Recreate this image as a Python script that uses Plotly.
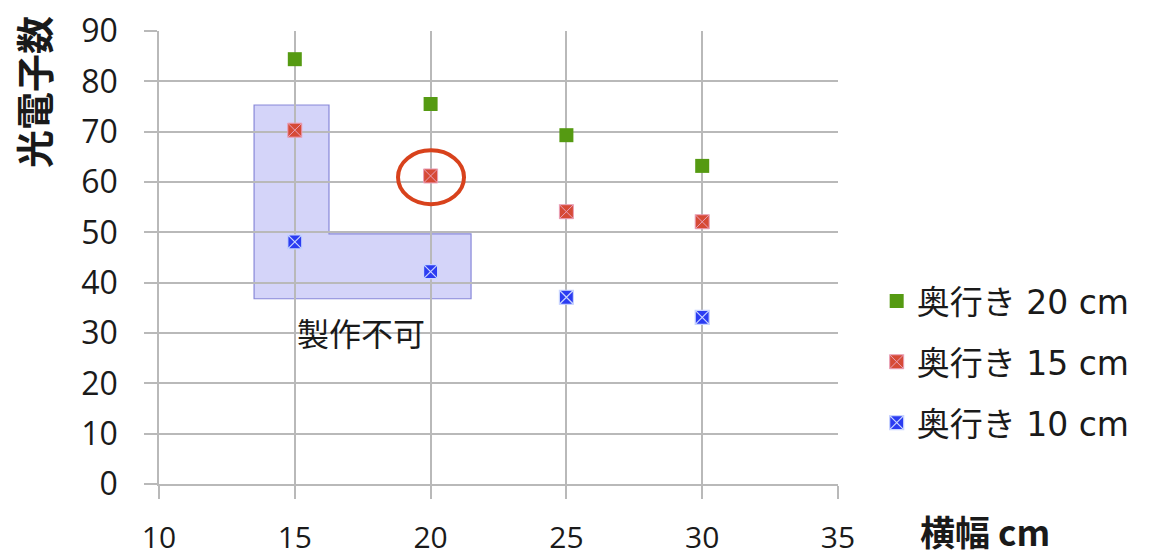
import plotly.graph_objects as go

# Measurements: photoelectron count vs. width, one series per depth
widths = [15, 20, 25, 30]
depth_20 = [84.4, 75.5, 69.3, 63.2]
depth_15 = [70.3, 61.2, 54.1, 52.1]
depth_10 = [48.1, 42.2, 37.1, 33.1]
series_names = ["奥行き 20 cm", "奥行き 15 cm", "奥行き 10 cm"]

# Region that cannot be manufactured (L-shaped outline, data coords)
ng_x = [13.5, 16.26, 16.26, 21.49, 21.49, 13.5]
ng_y = [75.3, 75.3, 49.7, 49.7, 36.8, 36.8]
ng_label = "製作不可"
ng_label_pos = (17.45, 30.2)

# Highlighted point (circled)
hl_x0, hl_x1 = 18.80, 21.23
hl_y0, hl_y1 = 55.6, 66.3

x_ticks = [10, 15, 20, 25, 30, 35]
y_ticks = [0, 10, 20, 30, 40, 50, 60, 70, 80, 90]

CJK = "Noto Sans CJK JP, Noto Sans, sans-serif"
LEG = "DejaVu Sans, Noto Sans CJK JP, sans-serif"
TICK = "Open Sans, Noto Sans, sans-serif"
GRID = "#b9b9b9"
TXT = "#1a1a1a"

# Figure size and plot-area margins (pixels)
W, H = 1149, 557
L, R, T, B = 159, 311, 31, 73

fig = go.Figure()

fig.add_trace(go.Scatter(
    x=widths, y=depth_20, mode="markers", name=series_names[0],
    legendgroup="g20",
    marker=dict(symbol="square", size=14, color="#559a12",
                line=dict(width=0)),
))
fig.add_trace(go.Scatter(
    x=widths, y=depth_15, mode="markers", name=series_names[1],
    legendgroup="g15",
    marker=dict(symbol="square-x", size=14, color="#d64a36",
                line=dict(width=1, color="#e9a0b8")),
))
fig.add_trace(go.Scatter(
    x=widths, y=depth_10, mode="markers", name=series_names[2],
    legendgroup="g10",
    marker=dict(symbol="square-x", size=14, color="#2b3cf2",
                line=dict(width=1.2, color="#c8d4ff")),
))

path = "M " + " L ".join(f"{x},{y}" for x, y in zip(ng_x, ng_y)) + " Z"
fig.add_shape(type="path", path=path, xref="x", yref="y",
              fillcolor="rgba(120,120,235,0.32)",
              line=dict(color="rgba(120,120,210,0.85)", width=1.2),
              layer="below")

fig.add_shape(type="circle", xref="x", yref="y",
              x0=hl_x0, x1=hl_x1, y0=hl_y0, y1=hl_y1,
              line=dict(color="#d8421c", width=4))

fig.add_annotation(x=ng_label_pos[0], y=ng_label_pos[1], xref="x", yref="y",
                   text=ng_label, showarrow=False,
                   font=dict(family=CJK, size=32, color=TXT))


def px_to_paper(px, py):
    return (px - L) / (W - L - R), 1 - (py - T) / (H - T - B)


# Axis titles, placed by pixel centre
yt_x, yt_y = px_to_paper(32, 92)
fig.add_annotation(x=yt_x, y=yt_y, xref="paper", yref="paper",
                   xanchor="center", yanchor="middle",
                   text="<b>光電子数</b>", textangle=-90, showarrow=False,
                   font=dict(family=CJK, size=38, color=TXT))
xt_x, xt_y = px_to_paper(985, 530)
fig.add_annotation(x=xt_x, y=xt_y, xref="paper", yref="paper",
                   xanchor="center", yanchor="middle",
                   text="<b>横幅 cm</b>", showarrow=False,
                   font=dict(family=CJK, size=35, color=TXT))

axis_style = dict(showgrid=True, gridcolor=GRID, gridwidth=1.5,
                  showline=True, linecolor=GRID, linewidth=1.5,
                  ticks="outside", ticklen=13, tickcolor=GRID, tickwidth=1.5,
                  zeroline=False, automargin=False)
fig.update_xaxes(range=[10, 35], tickvals=x_ticks, ticklabelstandoff=13,
                 tickfont=dict(family=TICK, size=30, color=TXT),
                 **axis_style)
fig.update_yaxes(range=[0, 90], tickvals=y_ticks, ticklabelstandoff=20,
                 tickfont=dict(family=TICK, size=32, color=TXT),
                 **axis_style)

fig.update_layout(
    width=W, height=H,
    margin=dict(l=L, r=R, t=T, b=B, autoexpand=False),
    plot_bgcolor="white", paper_bgcolor="white",
    showlegend=True,
    legend=dict(xref="container", yref="container", x=0.763, y=0.51,
                xanchor="left", yanchor="top", tracegroupgap=15,
                font=dict(family=LEG, size=33, color=TXT),
                bgcolor="rgba(0,0,0,0)"),
)

fig.write_html("out.html")
